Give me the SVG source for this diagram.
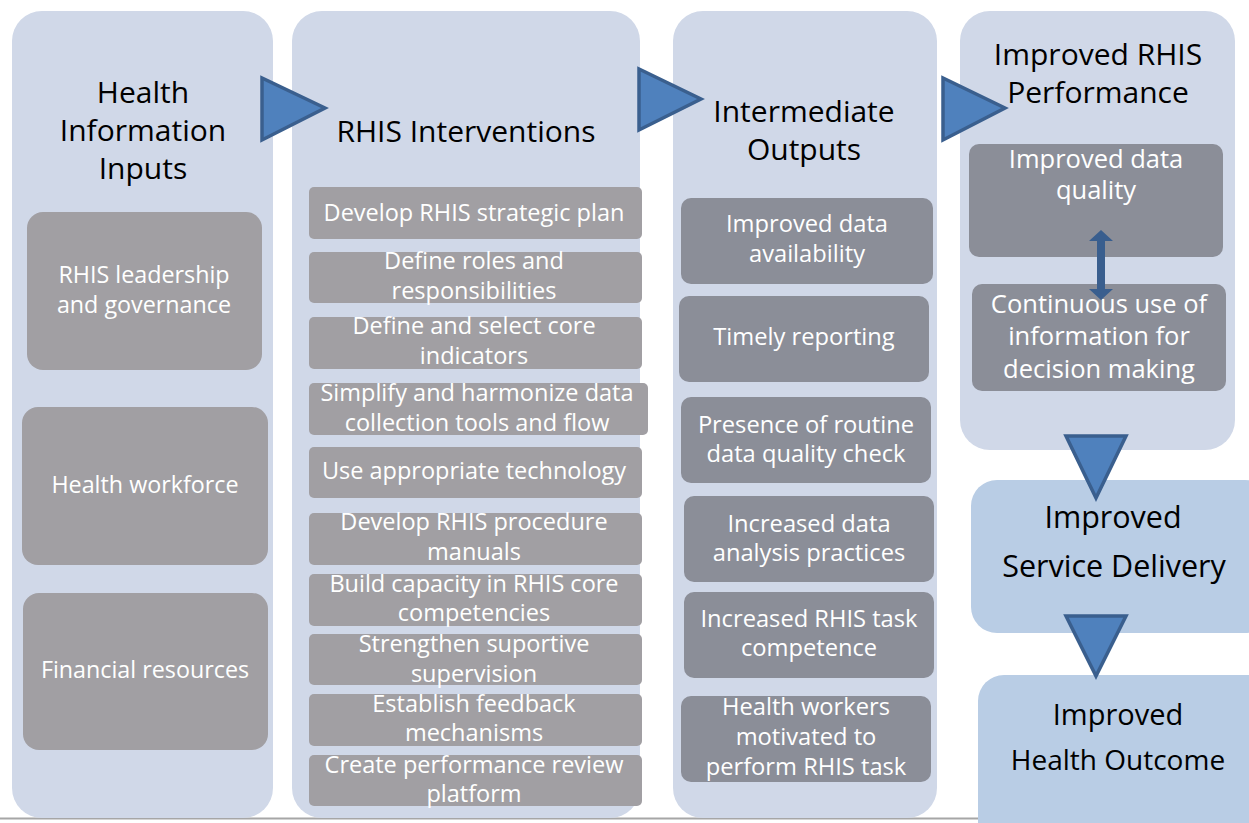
<svg xmlns="http://www.w3.org/2000/svg" width="1249" height="823" viewBox="0 0 1249 823">
<style>
.col{fill:#D0D8E8}
.low{fill:#B9CDE5}
.g1{fill:#A19FA3}
.g2{fill:#8B8E98}
.title{font-family:"Open Sans","Liberation Sans",sans-serif;font-size:30px;fill:#000;text-anchor:middle}
.wt{font-family:"Open Sans","Liberation Sans",sans-serif;font-size:23.5px;fill:#FFF;text-anchor:middle}
.wt1{font-family:"Open Sans","Liberation Sans",sans-serif;font-size:23.3px;fill:#FFF;text-anchor:middle}
.wt3{font-family:"Open Sans","Liberation Sans",sans-serif;font-size:23.7px;fill:#FFF;text-anchor:middle}
.wt4{font-family:"Open Sans","Liberation Sans",sans-serif;font-size:25.5px;fill:#FFF;text-anchor:middle}
.tri{fill:#4F81BD;stroke:#3A5F8E;stroke-width:3.5;stroke-linejoin:miter}
</style>
<rect width="1249" height="823" fill="#FFFFFF"/>
<line x1="0" y1="818.5" x2="983" y2="818.5" stroke="#A6A6A6" stroke-width="2"/>

<g id="col-inputs">
<rect class="col" x="12" y="11" width="261" height="807" rx="30"/>
<text class="title" x="143" y="103">Health</text>
<text class="title" x="143" y="141">Information</text>
<text class="title" x="143" y="179">Inputs</text>
</g>
<g id="n-leadership"><rect class="g1" x="27" y="212" width="235" height="158" rx="16"/>
<text class="wt1" x="144" y="283">RHIS leadership</text><text class="wt1" x="144" y="313">and governance</text></g>
<g id="n-workforce"><rect class="g1" x="22" y="407" width="246" height="158" rx="16"/>
<text class="wt1" x="145" y="493">Health workforce</text></g>
<g id="n-financial"><rect class="g1" x="23" y="593" width="245" height="157" rx="16"/>
<text class="wt1" x="145" y="678">Financial resources</text></g>

<g id="col-interventions">
<rect class="col" x="292" y="11" width="348" height="807" rx="30"/>
<text class="title" x="466" y="142">RHIS Interventions</text>
</g>
<g id="n-i1"><rect class="g1" x="309" y="187" width="333" height="52" rx="5"/><text class="wt" x="474" y="221">Develop RHIS strategic plan</text></g>
<g id="n-i2"><rect class="g1" x="309" y="252" width="333" height="51" rx="5"/><text class="wt" x="474" y="269">Define roles and</text><text class="wt" x="474" y="299">responsibilities</text></g>
<g id="n-i3"><rect class="g1" x="309" y="317" width="333" height="52" rx="5"/><text class="wt" x="474" y="334">Define and select core</text><text class="wt" x="474" y="364">indicators</text></g>
<g id="n-i4"><rect class="g1" x="309" y="383" width="339" height="52" rx="5"/><text class="wt" x="477" y="401">Simplify and harmonize data</text><text class="wt" x="477" y="431">collection tools and flow</text></g>
<g id="n-i5"><rect class="g1" x="309" y="447" width="333" height="51" rx="5"/><text class="wt" x="474" y="479">Use appropriate technology</text></g>
<g id="n-i6"><rect class="g1" x="309" y="513" width="333" height="52" rx="5"/><text class="wt" x="474" y="530">Develop RHIS procedure</text><text class="wt" x="474" y="560">manuals</text></g>
<g id="n-i7"><rect class="g1" x="309" y="574" width="333" height="52" rx="5"/><text class="wt" x="474" y="592">Build capacity in RHIS core</text><text class="wt" x="474" y="621">competencies</text></g>
<g id="n-i8"><rect class="g1" x="309" y="634" width="333" height="51" rx="5"/><text class="wt" x="474" y="652">Strengthen suportive</text><text class="wt" x="474" y="682">supervision</text></g>
<g id="n-i9"><rect class="g1" x="309" y="694" width="333" height="52" rx="5"/><text class="wt" x="474" y="712">Establish feedback</text><text class="wt" x="474" y="741">mechanisms</text></g>
<g id="n-i10"><rect class="g1" x="309" y="755" width="333" height="51" rx="5"/><text class="wt" x="474" y="773">Create performance review</text><text class="wt" x="474" y="802">platform</text></g>

<g id="col-outputs">
<rect class="col" x="673" y="11" width="264" height="807" rx="30"/>
<text class="title" x="804" y="122">Intermediate</text>
<text class="title" x="804" y="160">Outputs</text>
</g>
<g id="n-o1"><rect class="g2" x="681" y="198" width="252" height="86" rx="10"/><text class="wt3" x="807" y="232">Improved data</text><text class="wt3" x="807" y="262">availability</text></g>
<g id="n-o2"><rect class="g2" x="679" y="296" width="250" height="86" rx="10"/><text class="wt3" x="804" y="345">Timely reporting</text></g>
<g id="n-o3"><rect class="g2" x="681" y="397" width="250" height="86" rx="10"/><text class="wt3" x="806" y="433">Presence of routine</text><text class="wt3" x="806" y="462">data quality check</text></g>
<g id="n-o4"><rect class="g2" x="684" y="496" width="250" height="86" rx="10"/><text class="wt3" x="809" y="532">Increased data</text><text class="wt3" x="809" y="561">analysis practices</text></g>
<g id="n-o5"><rect class="g2" x="684" y="592" width="250" height="86" rx="10"/><text class="wt3" x="809" y="627">Increased RHIS task</text><text class="wt3" x="809" y="656">competence</text></g>
<g id="n-o6"><rect class="g2" x="681" y="696" width="250" height="86" rx="10"/><text class="wt3" x="806" y="715">Health workers</text><text class="wt3" x="806" y="745">motivated to</text><text class="wt3" x="806" y="775">perform RHIS task</text></g>

<g id="col-performance">
<rect class="col" x="960" y="11" width="275" height="439" rx="30"/>
<text class="title" x="1098" y="65">Improved RHIS</text>
<text class="title" x="1098" y="103">Performance</text>
</g>
<g id="n-quality"><rect class="g2" x="969" y="144" width="254" height="113" rx="10"/><text class="wt4" x="1096" y="168">Improved data</text><text class="wt4" x="1096" y="199">quality</text></g>
<g id="n-use"><rect class="g2" x="972" y="284" width="254" height="107" rx="10"/><text class="wt4" x="1099" y="313">Continuous use of</text><text class="wt4" x="1099" y="345">information for</text><text class="wt4" x="1099" y="378">decision making</text></g>

<g id="n-service">
<rect class="low" x="971" y="480" width="300" height="153" rx="26"/>
<text class="title" x="1113" y="528" style="font-size:30.5px">Improved</text>
<text class="title" x="1114" y="577" style="font-size:30.5px">Service Delivery</text>
</g>
<g id="n-outcome">
<rect class="low" x="978" y="675" width="300" height="180" rx="26"/>
<text class="title" x="1118" y="725" style="font-size:29px">Improved</text>
<text class="title" x="1118" y="770" style="font-size:28px">Health Outcome</text>
</g>

<g id="connectors">
<polygon class="tri" points="262,78 262,140 325,108"/>
<polygon class="tri" points="639,69 639,130 701,99"/>
<polygon class="tri" points="943,78 943,140 1005,108"/>
<polygon class="tri" points="1066,436 1126,436 1096,498"/>
<polygon class="tri" points="1066,616 1126,616 1096,676"/>
<path d="M1097,241 L1105,241 L1105,289 L1113,289 L1101,300 L1089,289 L1097,289 Z M1089,241 L1101,230 L1113,241 Z" fill="#395E8E"/>
</g>
</svg>
